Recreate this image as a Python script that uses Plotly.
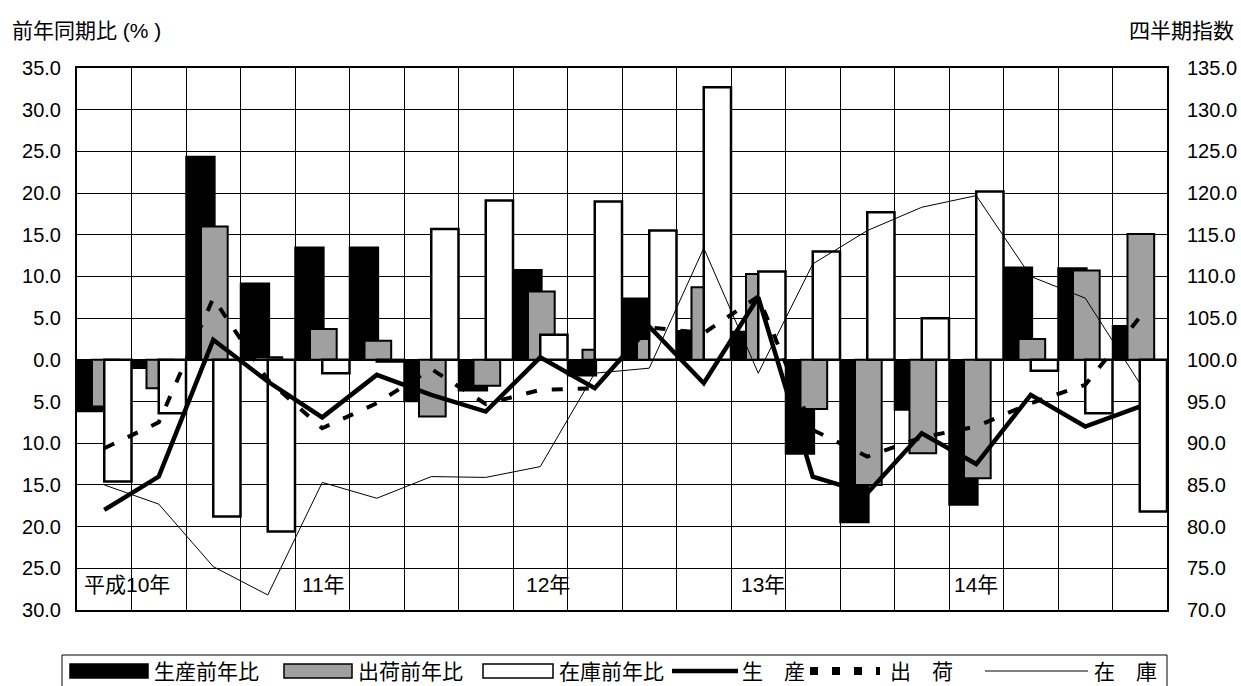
import plotly.graph_objects as go

# Quarterly data, 平成10年 Q1 .. 平成14年 Q4
quarters = list(range(20))
year_labels = ["平成10年", "11年", "12年", "13年", "14年"]
year_start_quarter = [0, 4, 8, 12, 16]

# Year-on-year change (%), left axis
prod_yoy = [-6.2, -1.0, 24.4, 9.2, 13.5, 13.5, -5.0, -3.7, 10.8, -1.9,
            7.4, 3.5, 3.4, -11.3, -19.5, -6.0, -17.4, 11.1, 11.0, 4.1]
ship_yoy = [-5.6, -3.4, 16.0, 0.3, 3.7, 2.3, -6.8, -3.1, 8.2, 1.2,
            2.5, 8.7, 10.3, -5.9, -15.0, -11.2, -14.2, 2.5, 10.7, 15.1]
inv_yoy = [-14.6, -6.4, -18.8, -20.6, -1.6, -0.2, 15.7, 19.1, 3.0, 19.0,
           15.5, 32.7, 10.6, 13.0, 17.7, 5.0, 20.2, -1.3, -6.4, -18.2]

# Quarterly index, right axis
prod_idx = [82.0, 86.0, 102.4, 97.4, 93.1, 98.2, 95.8, 93.8, 100.3, 96.6,
            104.0, 97.2, 107.5, 86.0, 84.0, 91.2, 87.5, 95.8, 92.0, 94.4]
ship_idx = [89.4, 92.5, 107.4, 97.6, 91.8, 94.8, 98.9, 94.7, 96.4, 96.6,
            103.9, 103.2, 107.6, 91.6, 88.4, 90.7, 92.0, 94.8, 97.0, 105.1]
inv_idx = [85.0, 82.7, 75.2, 71.8, 85.3, 83.4, 86.0, 85.9, 87.2, 98.4,
           99.0, 113.4, 98.4, 111.5, 115.5, 118.3, 119.7, 110.0, 107.4, 97.2]

left_ticks = list(range(-30, 36, 5))
right_ticks = list(range(70, 136, 5))

NUM_FONT = "Liberation Sans, Arial, Noto Sans CJK JP"
JP_FONT = "Liberation Sans, Noto Sans CJK JP"
GRAY = "#a0a0a0"

# plot area in pixels
W, H = 1241, 686
L, R, T, B = 77, 1167, 68, 610


def px_x(x):
    return (x - L) / (R - L)


def px_y(y):
    return (B - y) / (B - T)


centers = [q + 0.5 for q in quarters]

fig = go.Figure()

fig.add_trace(go.Bar(x=quarters, y=prod_yoy, offset=0.0, width=0.53,
                     marker=dict(color="black", line=dict(color="black", width=1.5)),
                     name="生産前年比", yaxis="y"))
fig.add_trace(go.Bar(x=quarters, y=ship_yoy, offset=0.275, width=0.49,
                     marker=dict(color=GRAY, line=dict(color="black", width=2)),
                     name="出荷前年比", yaxis="y"))
fig.add_trace(go.Bar(x=quarters, y=inv_yoy, offset=0.5, width=0.5,
                     marker=dict(color="white", line=dict(color="black", width=2.5)),
                     name="在庫前年比", yaxis="y"))

fig.add_trace(go.Scatter(x=centers, y=inv_idx, mode="lines",
                         line=dict(color="black", width=1),
                         name="在　庫", yaxis="y2"))
fig.add_trace(go.Scatter(x=centers, y=ship_idx, mode="lines",
                         line=dict(color="black", width=4, dash="11px,15px"),
                         name="出　荷", yaxis="y2"))
fig.add_trace(go.Scatter(x=centers, y=prod_idx, mode="lines",
                         line=dict(color="black", width=4.5),
                         name="生　産", yaxis="y2"))

annotations = []
# year labels along the bottom of the plot
for lab, q in zip(year_labels, year_start_quarter):
    shift = {0: 0.1, 4: 0.09, 8: 0.2, 12: 0.15, 16: 0.05}[q]
    annotations.append(dict(x=q + shift, y=-27.0, xref="x", yref="y",
                            text=lab, showarrow=False, xanchor="left", yanchor="middle",
                            font=dict(family=JP_FONT, size=21, color="black")))

# axis titles
annotations.append(dict(x=px_x(10), y=px_y(30), xref="paper", yref="paper",
                        text="前年同期比 (% )", showarrow=False, xanchor="left",
                        yanchor="middle",
                        font=dict(family=JP_FONT, size=21, color="black")))
annotations.append(dict(x=px_x(1236), y=px_y(31), xref="paper", yref="paper",
                        text="四半期指数", showarrow=False, xanchor="right",
                        yanchor="middle",
                        font=dict(family=JP_FONT, size=21, color="black")))

shapes = []
# legend frame
shapes.append(dict(type="rect", xref="paper", yref="paper",
                   x0=px_x(62), x1=px_x(1167), y0=px_y(700), y1=px_y(655),
                   line=dict(color="black", width=1), fillcolor="white", layer="above"))

ly = 671
sw_top, sw_bot = 664, 678
legend_items = [
    ("bar", "black", 70, 148, "生産前年比", 152),
    ("bar", GRAY, 284, 352, "出荷前年比", 356),
    ("bar", "white", 483, 553, "在庫前年比", 557),
    ("thick", None, 672, 738, "生　産", 740),
    ("dash", None, 810, 880, "出　荷", 888),
    ("thin", None, 985, 1088, "在　庫", 1092),
]
for kind, col, x0, x1, text, tx in legend_items:
    if kind == "bar":
        shapes.append(dict(type="rect", xref="paper", yref="paper",
                           x0=px_x(x0), x1=px_x(x1), y0=px_y(sw_bot), y1=px_y(sw_top),
                           fillcolor=col, line=dict(color="black", width=1.5), layer="above"))
    elif kind == "thick":
        shapes.append(dict(type="line", xref="paper", yref="paper",
                           x0=px_x(x0), x1=px_x(x1), y0=px_y(ly), y1=px_y(ly),
                           line=dict(color="black", width=4.5), layer="above"))
    elif kind == "dash":
        shapes.append(dict(type="line", xref="paper", yref="paper",
                           x0=px_x(x0), x1=px_x(x1), y0=px_y(ly), y1=px_y(ly),
                           line=dict(color="black", width=8, dash="8px,14px"), layer="above"))
    else:
        shapes.append(dict(type="line", xref="paper", yref="paper",
                           x0=px_x(x0), x1=px_x(x1), y0=px_y(ly), y1=px_y(ly),
                           line=dict(color="black", width=1), layer="above"))
    annotations.append(dict(x=px_x(tx), y=px_y(ly), xref="paper", yref="paper",
                            text=text, showarrow=False, xanchor="left", yanchor="middle",
                            font=dict(family=JP_FONT, size=21, color="black")))

fig.update_layout(
    width=W, height=H,
    margin=dict(l=L, r=W - R, t=T, b=H - B, pad=0, autoexpand=False),
    paper_bgcolor="white", plot_bgcolor="white",
    barmode="overlay", showlegend=False,
    xaxis=dict(range=[0, 20], tick0=0, dtick=1, showticklabels=False,
               showgrid=True, gridcolor="black", gridwidth=1, zeroline=False,
               showline=True, linecolor="black", linewidth=2, mirror=True,
               ticks="", automargin=False),
    yaxis=dict(range=[-30, 35], tickvals=left_ticks,
               ticktext=[f"{abs(v):.1f}" for v in left_ticks],
               showgrid=True, gridcolor="black", gridwidth=1,
               zeroline=True, zerolinecolor="black", zerolinewidth=2,
               showline=True, linecolor="black", linewidth=2, mirror=True,
               ticks="", ticklabelstandoff=10, automargin=False,
               tickfont=dict(family=NUM_FONT, size=20, color="black")),
    yaxis2=dict(range=[70, 135], tickvals=right_ticks,
                ticktext=[f"{v:.1f}" for v in right_ticks],
                overlaying="y", side="right", showgrid=False, zeroline=False,
                showline=True, linecolor="black", linewidth=2,
                ticks="", ticklabelstandoff=14, automargin=False,
                tickfont=dict(family=NUM_FONT, size=20, color="black")),
    annotations=annotations,
    shapes=shapes,
)

fig.write_html("out.html")
